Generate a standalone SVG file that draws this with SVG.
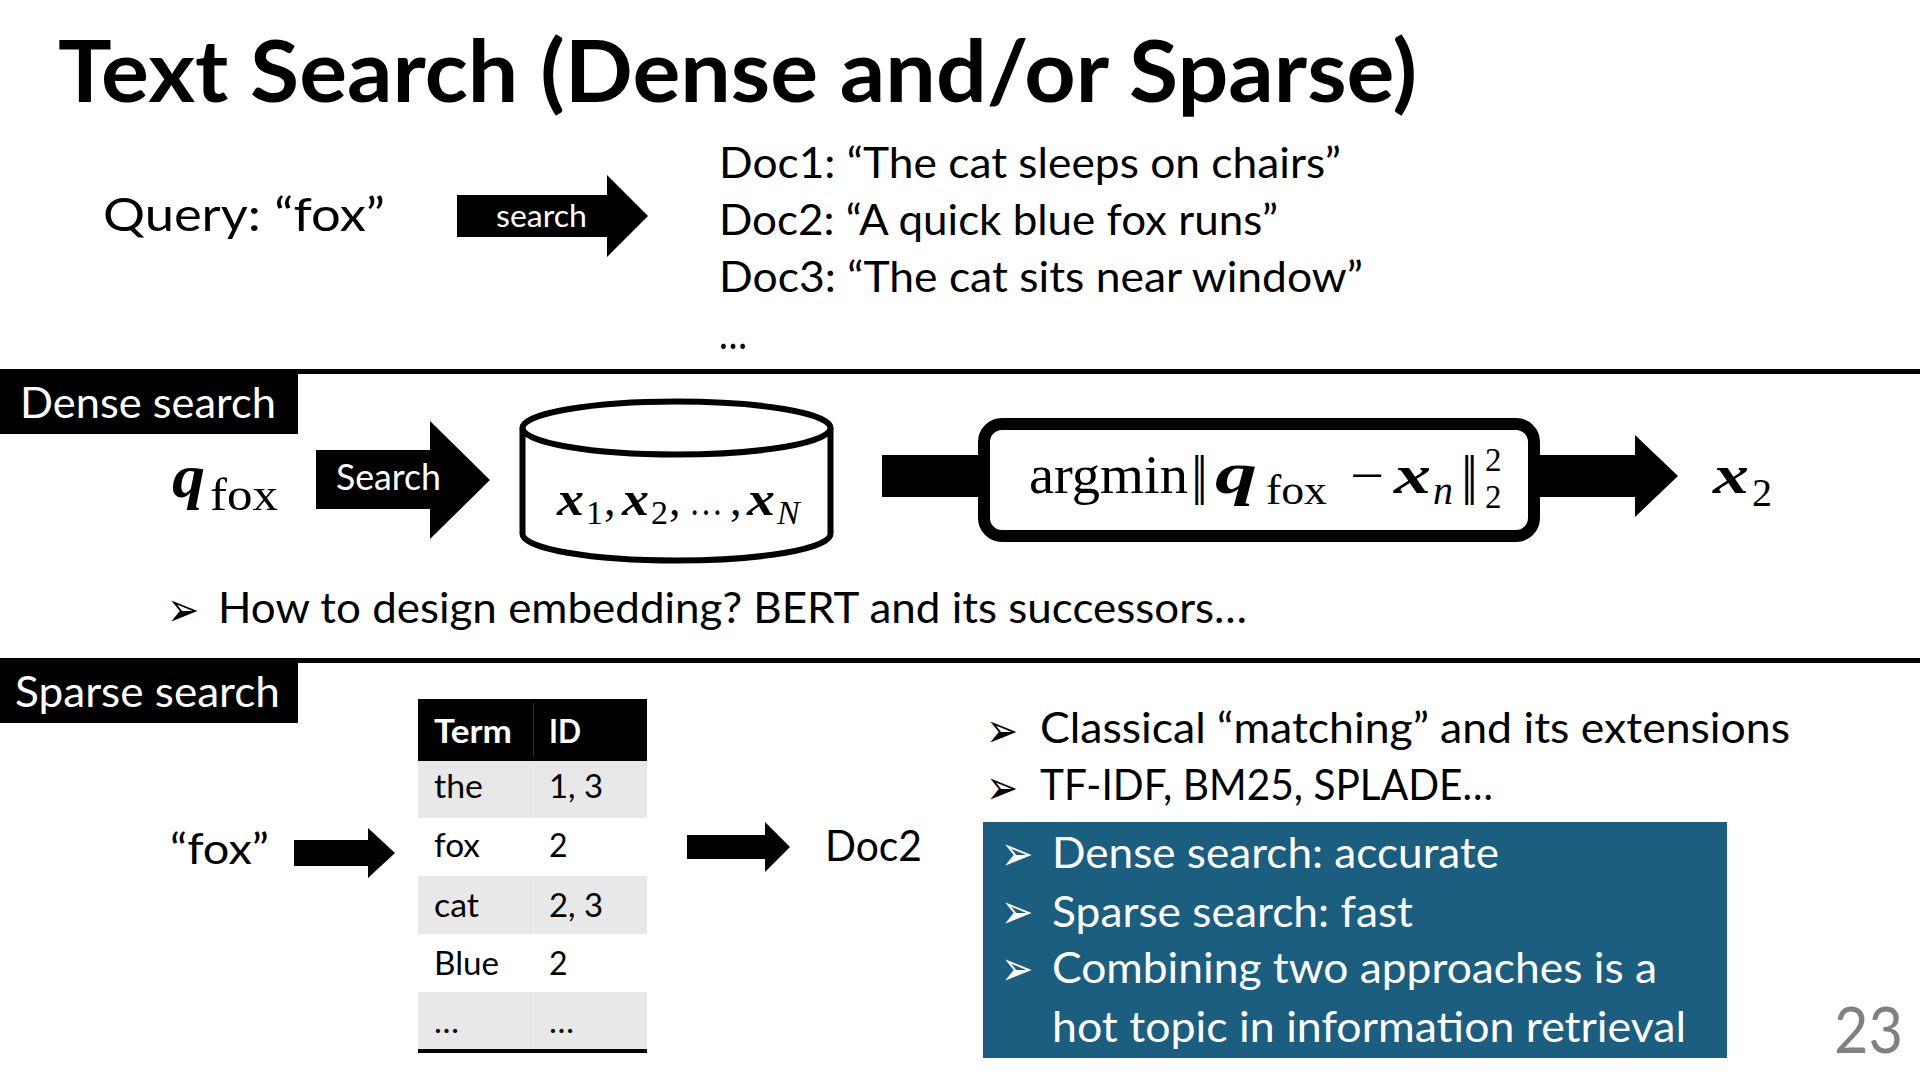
<svg xmlns="http://www.w3.org/2000/svg" width="1920" height="1080" viewBox="0 0 1920 1080">
<defs>
<style>
.t{font-family:Lato,"Open Sans","Liberation Sans",sans-serif;fill:#000}
.b{font-weight:bold}
.w{fill:#fff}
.bul{font-family:"DejaVu Sans",sans-serif;font-size:48px}
.mv{font-family:"Liberation Serif","DejaVu Serif",serif;font-weight:bold;font-style:italic;fill:#000}
.mr{font-family:"Liberation Serif","DejaVu Serif",serif;fill:#000}
.mi{font-family:"Liberation Serif","DejaVu Serif",serif;font-style:italic;fill:#000}
.nrm{font-family:"DejaVu Sans",sans-serif;fill:#000}
.arrow{fill:#000}
.gray{fill:#e8e8e8}
</style>
</defs>
<rect x="0" y="0" width="1920" height="1080" fill="#fff"/>

<g id="title">
<text class="t b" x="58" y="102" font-size="86" textLength="1359" lengthAdjust="spacingAndGlyphs">Text Search (Dense and/or Sparse)</text>
</g>

<g id="query">
<text class="t" x="103" y="231" font-size="47" textLength="282" lengthAdjust="spacingAndGlyphs">Query: “fox”</text>
</g>

<g id="docs">
<text class="t" x="719" y="178" font-size="43" textLength="622" lengthAdjust="spacingAndGlyphs">Doc1: “The cat sleeps on chairs”</text>
<text class="t" x="719" y="235" font-size="43" textLength="559" lengthAdjust="spacingAndGlyphs">Doc2: “A quick blue fox runs”</text>
<text class="t" x="719" y="292" font-size="43" textLength="644" lengthAdjust="spacingAndGlyphs">Doc3: “The cat sits near window”</text>
<text class="t" x="719" y="349" font-size="43" textLength="28" lengthAdjust="spacingAndGlyphs">…</text>
</g>

<g id="separators">
<rect x="0" y="369" width="1920" height="5" fill="#000"/>
<rect x="0" y="658" width="1920" height="5" fill="#000"/>
</g>

<g id="connectors">
<polygon class="arrow" points="457,195 607,195 607,175 648,216 607,257 607,237 457,237"/>
<polygon class="arrow" points="316,450 430,450 430,421 490,480 430,539 430,509 316,509"/>
<polygon class="arrow" points="882,455 1635,455 1635,435 1678,476 1635,517 1635,497 882,497"/>
<polygon class="arrow" points="294,840 368,840 368,828 395,853 368,878 368,866 294,866"/>
<polygon class="arrow" points="687,835 765,835 765,822 790,847 765,872 765,859 687,859"/>
<text class="t w" x="496" y="227" font-size="31" textLength="91" lengthAdjust="spacingAndGlyphs">search</text>
<text class="t w" x="336" y="490" font-size="36" textLength="105" lengthAdjust="spacingAndGlyphs">Search</text>
</g>

<g id="dense-label">
<rect x="0" y="374" width="298" height="60" fill="#000"/>
<text class="t w" x="20" y="418" font-size="43" textLength="256" lengthAdjust="spacingAndGlyphs">Dense search</text>
</g>

<g id="q-fox">
<text class="mv" x="172" y="497" font-size="62" textLength="33" lengthAdjust="spacingAndGlyphs">q</text>
<text class="mr" x="210" y="510" font-size="46" textLength="68" lengthAdjust="spacingAndGlyphs">fox</text>
</g>

<g id="database">
<path d="M522.5 428 A154 26.5 0 0 1 830.5 428 L830.5 534 A154 26.5 0 0 1 522.5 534 Z" fill="#fff" stroke="#000" stroke-width="6"/>
<path d="M522.5 428 A154 26.5 0 0 0 830.5 428" fill="none" stroke="#000" stroke-width="6"/>
<text class="mv" x="557" y="515" font-size="48" textLength="27" lengthAdjust="spacingAndGlyphs">x</text>
<text class="mr" x="586" y="524" font-size="34">1</text>
<text class="mr" x="604" y="515" font-size="46">,</text>
<text class="mv" x="622" y="515" font-size="48" textLength="27" lengthAdjust="spacingAndGlyphs">x</text>
<text class="mr" x="651" y="524" font-size="34">2</text>
<text class="mr" x="669" y="515" font-size="46">,</text>
<text class="mr" x="689" y="515" font-size="40" textLength="34" lengthAdjust="spacingAndGlyphs">…</text>
<text class="mr" x="730" y="515" font-size="46">,</text>
<text class="mv" x="747" y="515" font-size="48" textLength="28" lengthAdjust="spacingAndGlyphs">x</text>
<text class="mi" x="777" y="524" font-size="34">N</text>
</g>

<g id="argmin-box">
<rect x="984" y="424" width="550" height="112" rx="18" ry="18" fill="#fff" stroke="#000" stroke-width="12"/>
<text class="mr" x="1029" y="493" font-size="54" textLength="159" lengthAdjust="spacingAndGlyphs">argmin</text>
<text class="nrm" x="1191" y="493" font-size="50" textLength="17" lengthAdjust="spacingAndGlyphs">‖</text>
<text class="mv" x="1215" y="493" font-size="60" textLength="42" lengthAdjust="spacingAndGlyphs">q</text>
<text class="mr" x="1266" y="504" font-size="42" textLength="61" lengthAdjust="spacingAndGlyphs">fox</text>
<text class="mr" x="1350" y="493" font-size="52" textLength="34" lengthAdjust="spacingAndGlyphs">−</text>
<text class="mv" x="1394" y="493" font-size="54" textLength="37" lengthAdjust="spacingAndGlyphs">x</text>
<text class="mi" x="1433" y="504" font-size="40">n</text>
<text class="nrm" x="1461" y="493" font-size="50" textLength="17" lengthAdjust="spacingAndGlyphs">‖</text>
<text class="mr" font-size="33"><tspan x="1485" y="471">2</tspan><tspan x="1485" y="508">2</tspan></text>
</g>

<g id="result-x2">
<text class="mv" x="1713" y="493" font-size="54" textLength="36" lengthAdjust="spacingAndGlyphs">x</text>
<text class="mr" x="1752" y="506" font-size="40">2</text>
</g>

<g id="dense-note">
<text class="bul" transform="matrix(0.8,0,0,1,33.4,0)" x="167" y="626">➢</text>
<text class="t" x="218" y="623" font-size="43" textLength="1029" lengthAdjust="spacingAndGlyphs">How to design embedding? BERT and its successors…</text>
</g>

<g id="sparse-label">
<rect x="0" y="663" width="298" height="60" fill="#000"/>
<text class="t w" x="15" y="707" font-size="43" textLength="265" lengthAdjust="spacingAndGlyphs">Sparse search</text>
</g>

<g id="fox-term">
<text class="t" x="170" y="864" font-size="43" textLength="99" lengthAdjust="spacingAndGlyphs">“fox”</text>
</g>

<g id="inverted-index">
<rect x="418" y="699" width="229" height="62" fill="#000"/>
<rect x="533" y="703" width="1" height="54" fill="#333"/>
<rect class="gray" x="418" y="761" width="229" height="57"/>
<rect class="gray" x="418" y="876" width="229" height="58"/>
<rect class="gray" x="418" y="992" width="229" height="57"/>
<rect x="533" y="761" width="1" height="57" fill="#f2f2f2"/>
<rect x="533" y="876" width="1" height="58" fill="#f2f2f2"/>
<rect x="533" y="992" width="1" height="57" fill="#f2f2f2"/>
<rect x="418" y="1049" width="229" height="4" fill="#000"/>
<text class="t b w" x="434" y="743" font-size="32" textLength="78" lengthAdjust="spacingAndGlyphs">Term</text>
<text class="t b w" x="549" y="743" font-size="32" textLength="32" lengthAdjust="spacingAndGlyphs">ID</text>
<text class="t" x="434" y="798" font-size="32" textLength="49" lengthAdjust="spacingAndGlyphs">the</text>
<text class="t" x="549" y="798" font-size="32" textLength="54" lengthAdjust="spacingAndGlyphs">1, 3</text>
<text class="t" x="434" y="857" font-size="32" textLength="46" lengthAdjust="spacingAndGlyphs">fox</text>
<text class="t" x="549" y="857" font-size="32">2</text>
<text class="t" x="434" y="917" font-size="32" textLength="45" lengthAdjust="spacingAndGlyphs">cat</text>
<text class="t" x="549" y="917" font-size="32" textLength="54" lengthAdjust="spacingAndGlyphs">2, 3</text>
<text class="t" x="434" y="975" font-size="32" textLength="65" lengthAdjust="spacingAndGlyphs">Blue</text>
<text class="t" x="549" y="975" font-size="32">2</text>
<text class="t" x="434" y="1033" font-size="32" textLength="25" lengthAdjust="spacingAndGlyphs">…</text>
<text class="t" x="549" y="1033" font-size="32" textLength="25" lengthAdjust="spacingAndGlyphs">…</text>
</g>

<g id="doc2-result">
<text class="t" x="825" y="861" font-size="43" textLength="97" lengthAdjust="spacingAndGlyphs">Doc2</text>
</g>

<g id="sparse-notes">
<text class="bul" transform="matrix(0.8,0,0,1,197.2,0)" x="986" y="747">➢</text>
<text class="bul" transform="matrix(0.8,0,0,1,197.2,0)" x="986" y="804">➢</text>
<text class="t" x="1040" y="743" font-size="43" textLength="750" lengthAdjust="spacingAndGlyphs">Classical “matching” and its extensions</text>
<text class="t" x="1040" y="800" font-size="43" textLength="453" lengthAdjust="spacingAndGlyphs">TF-IDF, BM25, SPLADE…</text>
</g>

<g id="summary-box">
<rect x="983" y="822" width="744" height="236" fill="#1b5e80"/>
<text class="bul w" transform="matrix(0.8,0,0,1,200.2,0)" x="1001" y="870">➢</text>
<text class="bul w" transform="matrix(0.8,0,0,1,200.2,0)" x="1001" y="928">➢</text>
<text class="bul w" transform="matrix(0.8,0,0,1,200.2,0)" x="1001" y="985">➢</text>
<text class="t w" x="1052" y="868" font-size="43" textLength="447" lengthAdjust="spacingAndGlyphs">Dense search: accurate</text>
<text class="t w" x="1052" y="927" font-size="43" textLength="361" lengthAdjust="spacingAndGlyphs">Sparse search: fast</text>
<text class="t w" x="1052" y="983" font-size="43" textLength="605" lengthAdjust="spacingAndGlyphs">Combining two approaches is a</text>
<text class="t w" x="1052" y="1042" font-size="43" textLength="634" lengthAdjust="spacingAndGlyphs">hot topic in information retrieval</text>
</g>

<g id="page-number">
<text class="t" x="1834" y="1053" font-size="63" style="fill:#808080" textLength="69" lengthAdjust="spacingAndGlyphs">23</text>
</g>
</svg>
